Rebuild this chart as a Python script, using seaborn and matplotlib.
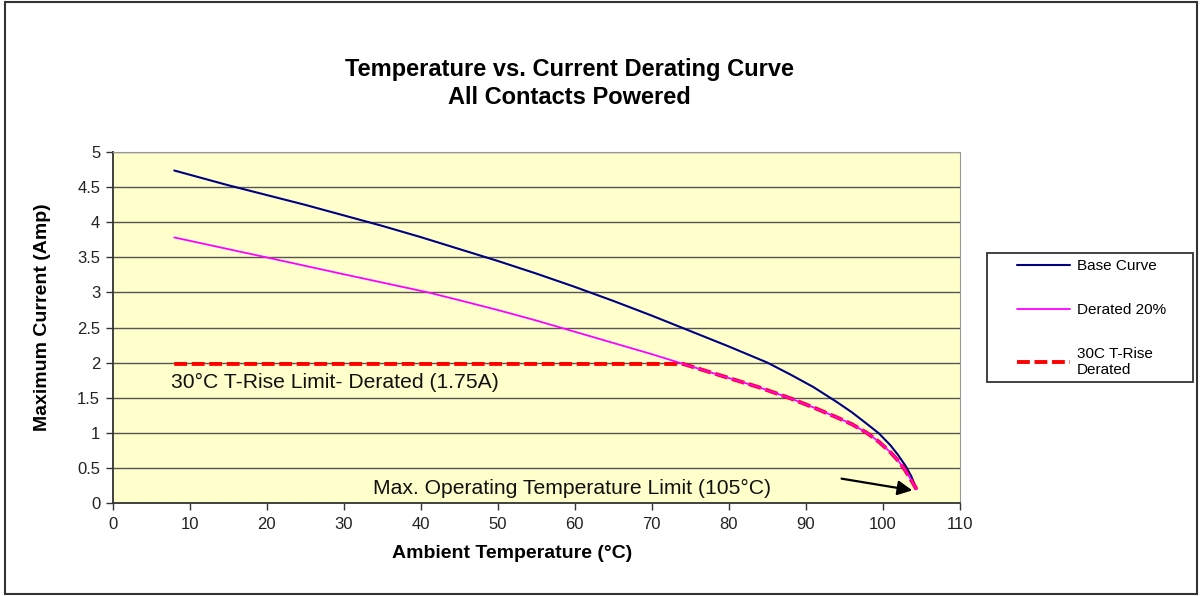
import numpy as np
import pandas as pd
import seaborn as sns
import matplotlib
matplotlib.use("Agg")
from matplotlib import pyplot as plt
from matplotlib.patches import Rectangle

# values
base_temp = [8, 15, 20, 25, 30, 35, 40, 45, 50, 55, 60, 65, 70, 75, 80, 85,
             88, 91, 94, 96, 98, 99.5, 101, 102, 103, 103.7, 104.3]
base_amp = [4.74, 4.53, 4.39, 4.25, 4.10, 3.95, 3.79, 3.62, 3.45, 3.27, 3.08, 2.88, 2.67,
            2.45, 2.23, 2.00, 1.83, 1.65, 1.44, 1.29, 1.12, 0.99, 0.82, 0.68, 0.52, 0.38, 0.22]

derated_temp = [8, 20, 30, 41, 45, 50, 55, 60, 65, 70, 74.1, 80, 84, 88, 91, 94, 96,
                97.9, 99.5, 101, 102, 102.7, 103.5, 104.4]
derated_amp = [3.785, 3.50, 3.26, 3.00, 2.89, 2.75, 2.60, 2.44, 2.28, 2.12, 1.98, 1.78,
               1.645, 1.49, 1.36, 1.22, 1.12, 1.00, 0.87, 0.72, 0.60, 0.50, 0.36, 0.19]

trise_level = 1.98
trise_start = 8
trise_knee = 74.1

y_ticks = [0, 0.5, 1, 1.5, 2, 2.5, 3, 3.5, 4, 4.5, 5]
y_tick_labels = ["0", "0.5", "1", "1.5", "2", "2.5", "3", "3.5", "4", "4.5", "5"]
x_ticks = list(range(0, 111, 10))


def build_frames():
    base = pd.DataFrame({"temp": base_temp, "amp": base_amp})
    derated = pd.DataFrame({"temp": derated_temp, "amp": derated_amp})
    # 30C T-rise curve: flat limit, then follows the derated curve
    tail = derated[derated["temp"] >= trise_knee]
    trise = pd.DataFrame({"temp": [trise_start] + list(tail["temp"]),
                          "amp": [trise_level] + list(tail["amp"])})
    return base, derated, trise


def process():
    sns.set_theme(style="white")
    plt.rcParams['font.family'] = ['Liberation Sans', 'DejaVu Sans']
    plt.rcParams['text.color'] = 'black'

    base, derated, trise = build_frames()

    fig = plt.figure(figsize=(12.01, 5.96), dpi=100)
    ax = fig.add_axes([0.0938, 0.1565, 0.7053, 0.588])
    ax.set_facecolor("#FFFFCC")

    sns.lineplot(data=base, x="temp", y="amp", ax=ax, color="#000080", lw=1.5,
                 label="Base Curve", zorder=3)
    sns.lineplot(data=trise, x="temp", y="amp", ax=ax, color="#FF0000", lw=2.8,
                 dashes=False, label="30C T-Rise\nDerated", zorder=3)
    ax.lines[-1].set_dashes((3.3, 1.2))
    sns.lineplot(data=derated, x="temp", y="amp", ax=ax, color="#FF00FF", lw=1.3,
                 label="Derated 20%", zorder=4)

    ax.set_xlim(0, 110)
    ax.set_ylim(0, 5)
    ax.set_xticks(x_ticks)
    ax.set_yticks(y_ticks)
    ax.set_yticklabels(y_tick_labels)
    ax.tick_params(axis="both", which="both", direction="out", length=5, width=1,
                   color="#333333", labelsize=12, labelcolor="#222222", pad=4)
    ax.tick_params(axis="x", pad=5)
    ax.tick_params(left=True, bottom=True)

    for yv in y_ticks[1:]:
        ax.axhline(yv, color="#555555", lw=1, zorder=1)
    for side in ["top", "right"]:
        ax.spines[side].set_color("#999999")
        ax.spines[side].set_linewidth(0.8)
    for side in ["left", "bottom"]:
        ax.spines[side].set_color("#333333")
        ax.spines[side].set_linewidth(1.3)

    ax.set_xlabel("")
    ax.set_ylabel("")

    ax.text(7.6, 1.72, "30\u00b0C T-Rise Limit- Derated (1.75A)", fontsize=15.2,
            va="center", ha="left", color="#111111")
    ax.text(33.8, 0.2, "Max. Operating Temperature Limit (105\u00b0C)", fontsize=15.2,
            va="center", ha="left", color="#111111")
    ax.annotate("", xy=(104.2, 0.17), xytext=(94.3, 0.35),
                arrowprops=dict(arrowstyle="-|>", color="black", lw=1.6,
                                mutation_scale=22), zorder=5)

    fig.text(0.474, 0.884, "Temperature vs. Current Derating Curve", ha="center",
             va="center", fontsize=17, fontweight="bold")
    fig.text(0.474, 0.837, "All Contacts Powered", ha="center", va="center",
             fontsize=17, fontweight="bold")
    fig.text(0.426, 0.072, "Ambient Temperature (\u00b0C)", ha="center", va="center",
             fontsize=14, fontweight="bold")
    fig.text(0.035, 0.468, "Maximum Current (Amp)", ha="center", va="center",
             fontsize=14, fontweight="bold", rotation=90)

    handles, labels = ax.get_legend_handles_labels()
    order = [labels.index("Base Curve"), labels.index("Derated 20%"),
             labels.index("30C T-Rise\nDerated")]
    ax.get_legend().remove()
    fig.legend([handles[i] for i in order], [labels[i] for i in order],
               loc="upper left", bbox_to_anchor=(1017 / 1201, (596 - 259) / 596),
               fontsize=11, frameon=False, handlelength=3.5, labelspacing=1.96,
               borderpad=0, handletextpad=0.4, borderaxespad=0)
    fig.patches.append(Rectangle((987 / 1201, 214 / 596), 206 / 1201, 129 / 596,
                                 transform=fig.transFigure, fill=False,
                                 edgecolor="#333333", lw=1.3))

    fig.patches.append(Rectangle((5 / 1201, 2 / 596), 1192 / 1201, 592 / 596,
                                 transform=fig.transFigure, fill=False,
                                 edgecolor="#333333", lw=1.5))

    fig.savefig("out.png", dpi=100)


if __name__ == '__main__':
    process()
